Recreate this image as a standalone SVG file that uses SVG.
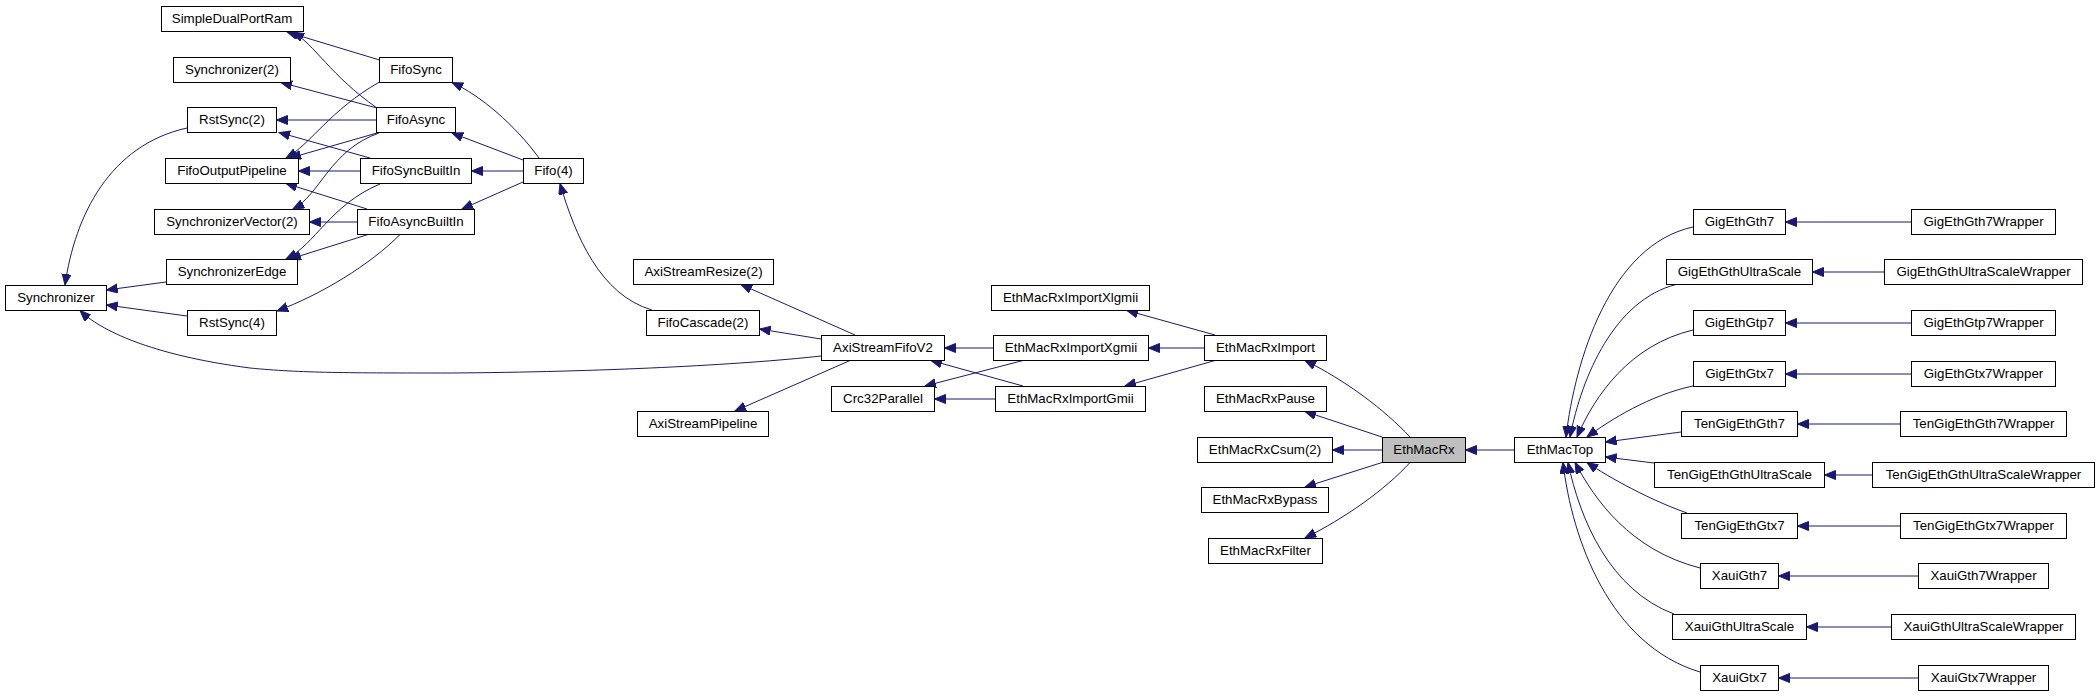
<svg xmlns="http://www.w3.org/2000/svg" width="2099" height="696" viewBox="0 0 2099 696">
<style>
.n rect{fill:#fff;stroke:#000;stroke-width:1}
.n text{font-family:"Liberation Sans",Arial,sans-serif;font-size:13.3px;text-anchor:middle;fill:#000}
#n_EthMacRx rect{fill:#bfbfbf}
.e path{fill:none;stroke:#191970;stroke-width:1;marker-start:url(#ah)}
</style>
<defs>
<marker id="ah" markerWidth="12" markerHeight="10" refX="11" refY="4.5" orient="auto-start-reverse" markerUnits="userSpaceOnUse"><path d="M0,0 L11,4.5 L0,9 z" fill="#191970" stroke="#191970" stroke-width="1"/></marker>
</defs>
<rect width="2099" height="696" fill="#fff"/>
<g id="connectors" class="e">
<path d="M287,32 L379.5,60"/>
<path d="M293,32 C315,45 330,75 377,108"/>
<path d="M281,82.5 L377,108"/>
<path d="M276.5,120 L376,120"/>
<path d="M279,132.5 L370,158"/>
<path d="M286,158 C310,145 330,110 379.5,82"/>
<path d="M290,158 L377,133"/>
<path d="M298.5,171 L360,171"/>
<path d="M286,183.5 L367,209"/>
<path d="M293,209 C320,195 330,150 379,133"/>
<path d="M309.5,222 L357,222"/>
<path d="M286,259 C315,245 330,205 380,184"/>
<path d="M290,259 L368,234.5"/>
<path d="M277,311 C320,295 370,265 400,234.5"/>
<path d="M65,285 C75,215 110,145 187,128"/>
<path d="M106.5,290 L166,282"/>
<path d="M106.5,305 L187,316"/>
<path d="M80,310.5 C100,330 150,355 250,368 C300,373 350,373 450,373 C600,372 740,365 821,356"/>
<path d="M452,82.5 C480,95 515,125 539,158"/>
<path d="M452,133 L523,160"/>
<path d="M471.5,171 L523,171"/>
<path d="M462,209 L523,182"/>
<path d="M560,183.5 C575,235 600,295 652,310"/>
<path d="M741,284.5 L855,335"/>
<path d="M759.5,329 L821,339"/>
<path d="M735,411 L850,360.5"/>
<path d="M944.5,348 L993,348"/>
<path d="M931,360.5 L1023,386"/>
<path d="M925,386 L1023,360.5"/>
<path d="M934.5,399 L995,399"/>
<path d="M1127,310.5 L1215,335"/>
<path d="M1148.5,348 L1204,348"/>
<path d="M1125,386 L1215,360.5"/>
<path d="M1305,360.5 C1345,380 1385,410 1410,437"/>
<path d="M1305,411.5 L1382,437"/>
<path d="M1332.5,450 L1382,450"/>
<path d="M1305,487 L1382,462.5"/>
<path d="M1305,538 C1345,518 1385,490 1410,462.5"/>
<path d="M1465.5,450 L1514,450"/>
<path d="M1566,437 C1575,360 1610,245 1693,227"/>
<path d="M1570,437 C1582,375 1615,300 1676,284.5"/>
<path d="M1577,437 C1595,395 1630,345 1693,330"/>
<path d="M1587,437 C1610,420 1650,395 1693,386"/>
<path d="M1605.5,442 L1681,432"/>
<path d="M1605.5,457 L1654,463"/>
<path d="M1587,462.5 C1610,478 1650,500 1687,513"/>
<path d="M1575,462.5 C1595,500 1630,550 1700,568"/>
<path d="M1568,462.5 C1580,520 1610,590 1674,614"/>
<path d="M1563,462.5 C1572,540 1610,645 1700,672"/>
<path d="M1785.5,222 L1911,222"/>
<path d="M1812.5,272 L1884,272"/>
<path d="M1785.5,323 L1911,323"/>
<path d="M1785.5,374 L1911,374"/>
<path d="M1797.5,424 L1900,424"/>
<path d="M1824.5,475 L1872,475"/>
<path d="M1797.5,526 L1900,526"/>
<path d="M1778.5,576 L1918,576"/>
<path d="M1806.5,627 L1891,627"/>
<path d="M1778.5,678 L1918,678"/>
</g>
<g id="n_SimpleDualPortRam" class="n"><rect x="161.5" y="6.5" width="142" height="25"/><text x="232" y="23">SimpleDualPortRam</text></g>
<g id="n_Synchronizer2" class="n"><rect x="173.5" y="57.5" width="117" height="25"/><text x="232" y="74">Synchronizer(2)</text></g>
<g id="n_RstSync2" class="n"><rect x="187.5" y="107.5" width="89" height="25"/><text x="232" y="124">RstSync(2)</text></g>
<g id="n_FifoOutputPipeline" class="n"><rect x="165.5" y="158.5" width="133" height="25"/><text x="232" y="175">FifoOutputPipeline</text></g>
<g id="n_SynchronizerVector2" class="n"><rect x="154.5" y="209.5" width="155" height="25"/><text x="232" y="226">SynchronizerVector(2)</text></g>
<g id="n_SynchronizerEdge" class="n"><rect x="166.5" y="259.5" width="131" height="25"/><text x="232" y="276">SynchronizerEdge</text></g>
<g id="n_Synchronizer" class="n"><rect x="5.5" y="285.5" width="101" height="25"/><text x="56" y="302">Synchronizer</text></g>
<g id="n_RstSync4" class="n"><rect x="187.5" y="310.5" width="89" height="25"/><text x="232" y="327">RstSync(4)</text></g>
<g id="n_FifoSync" class="n"><rect x="379.5" y="57.5" width="73" height="25"/><text x="416" y="74">FifoSync</text></g>
<g id="n_FifoAsync" class="n"><rect x="376.5" y="107.5" width="79" height="25"/><text x="416" y="124">FifoAsync</text></g>
<g id="n_FifoSyncBuiltIn" class="n"><rect x="360.5" y="158.5" width="111" height="25"/><text x="416" y="175">FifoSyncBuiltIn</text></g>
<g id="n_FifoAsyncBuiltIn" class="n"><rect x="357.5" y="209.5" width="117" height="25"/><text x="416" y="226">FifoAsyncBuiltIn</text></g>
<g id="n_Fifo4" class="n"><rect x="523.5" y="158.5" width="60" height="25"/><text x="553.5" y="175">Fifo(4)</text></g>
<g id="n_AxiStreamResize2" class="n"><rect x="633.5" y="259.5" width="140" height="25"/><text x="703.5" y="276">AxiStreamResize(2)</text></g>
<g id="n_FifoCascade2" class="n"><rect x="646.5" y="310.5" width="113" height="25"/><text x="703" y="327">FifoCascade(2)</text></g>
<g id="n_AxiStreamPipeline" class="n"><rect x="637.5" y="411.5" width="131" height="25"/><text x="703" y="428">AxiStreamPipeline</text></g>
<g id="n_AxiStreamFifoV2" class="n"><rect x="821.5" y="335.5" width="123" height="25"/><text x="883" y="352">AxiStreamFifoV2</text></g>
<g id="n_Crc32Parallel" class="n"><rect x="831.5" y="386.5" width="103" height="25"/><text x="883" y="403">Crc32Parallel</text></g>
<g id="n_EthMacRxImportXlgmii" class="n"><rect x="991.5" y="285.5" width="158" height="25"/><text x="1070.5" y="302">EthMacRxImportXlgmii</text></g>
<g id="n_EthMacRxImportXgmii" class="n"><rect x="993.5" y="335.5" width="155" height="25"/><text x="1071" y="352">EthMacRxImportXgmii</text></g>
<g id="n_EthMacRxImportGmii" class="n"><rect x="995.5" y="386.5" width="150" height="25"/><text x="1070.5" y="403">EthMacRxImportGmii</text></g>
<g id="n_EthMacRxImport" class="n"><rect x="1204.5" y="335.5" width="122" height="25"/><text x="1265.5" y="352">EthMacRxImport</text></g>
<g id="n_EthMacRxPause" class="n"><rect x="1204.5" y="386.5" width="122" height="25"/><text x="1265.5" y="403">EthMacRxPause</text></g>
<g id="n_EthMacRxCsum2" class="n"><rect x="1197.5" y="437.5" width="135" height="25"/><text x="1265" y="454">EthMacRxCsum(2)</text></g>
<g id="n_EthMacRxBypass" class="n"><rect x="1201.5" y="487.5" width="127" height="25"/><text x="1265" y="504">EthMacRxBypass</text></g>
<g id="n_EthMacRxFilter" class="n"><rect x="1208.5" y="538.5" width="114" height="25"/><text x="1265.5" y="555">EthMacRxFilter</text></g>
<g id="n_EthMacRx" class="n"><rect x="1382.5" y="437.5" width="83" height="25"/><text x="1424" y="454">EthMacRx</text></g>
<g id="n_EthMacTop" class="n"><rect x="1514.5" y="437.5" width="91" height="25"/><text x="1560" y="454">EthMacTop</text></g>
<g id="n_GigEthGth7" class="n"><rect x="1693.5" y="209.5" width="92" height="25"/><text x="1739.5" y="226">GigEthGth7</text></g>
<g id="n_GigEthGthUltraScale" class="n"><rect x="1666.5" y="259.5" width="146" height="25"/><text x="1739.5" y="276">GigEthGthUltraScale</text></g>
<g id="n_GigEthGtp7" class="n"><rect x="1693.5" y="310.5" width="92" height="25"/><text x="1739.5" y="327">GigEthGtp7</text></g>
<g id="n_GigEthGtx7" class="n"><rect x="1693.5" y="361.5" width="92" height="25"/><text x="1739.5" y="378">GigEthGtx7</text></g>
<g id="n_TenGigEthGth7" class="n"><rect x="1681.5" y="411.5" width="116" height="25"/><text x="1739.5" y="428">TenGigEthGth7</text></g>
<g id="n_TenGigEthGthUltraScale" class="n"><rect x="1654.5" y="462.5" width="170" height="25"/><text x="1739.5" y="479">TenGigEthGthUltraScale</text></g>
<g id="n_TenGigEthGtx7" class="n"><rect x="1681.5" y="513.5" width="116" height="25"/><text x="1739.5" y="530">TenGigEthGtx7</text></g>
<g id="n_XauiGth7" class="n"><rect x="1700.5" y="563.5" width="78" height="25"/><text x="1739.5" y="580">XauiGth7</text></g>
<g id="n_XauiGthUltraScale" class="n"><rect x="1672.5" y="614.5" width="134" height="25"/><text x="1739.5" y="631">XauiGthUltraScale</text></g>
<g id="n_XauiGtx7" class="n"><rect x="1700.5" y="665.5" width="78" height="25"/><text x="1739.5" y="682">XauiGtx7</text></g>
<g id="n_GigEthGth7Wrapper" class="n"><rect x="1911.5" y="209.5" width="144" height="25"/><text x="1983.5" y="226">GigEthGth7Wrapper</text></g>
<g id="n_GigEthGthUltraScaleWrapper" class="n"><rect x="1884.5" y="259.5" width="198" height="25"/><text x="1983.5" y="276">GigEthGthUltraScaleWrapper</text></g>
<g id="n_GigEthGtp7Wrapper" class="n"><rect x="1911.5" y="310.5" width="144" height="25"/><text x="1983.5" y="327">GigEthGtp7Wrapper</text></g>
<g id="n_GigEthGtx7Wrapper" class="n"><rect x="1911.5" y="361.5" width="144" height="25"/><text x="1983.5" y="378">GigEthGtx7Wrapper</text></g>
<g id="n_TenGigEthGth7Wrapper" class="n"><rect x="1900.5" y="411.5" width="166" height="25"/><text x="1983.5" y="428">TenGigEthGth7Wrapper</text></g>
<g id="n_TenGigEthGthUltraScaleWrapper" class="n"><rect x="1872.5" y="462.5" width="222" height="25"/><text x="1983.5" y="479">TenGigEthGthUltraScaleWrapper</text></g>
<g id="n_TenGigEthGtx7Wrapper" class="n"><rect x="1900.5" y="513.5" width="166" height="25"/><text x="1983.5" y="530">TenGigEthGtx7Wrapper</text></g>
<g id="n_XauiGth7Wrapper" class="n"><rect x="1918.5" y="563.5" width="130" height="25"/><text x="1983.5" y="580">XauiGth7Wrapper</text></g>
<g id="n_XauiGthUltraScaleWrapper" class="n"><rect x="1891.5" y="614.5" width="184" height="25"/><text x="1983.5" y="631">XauiGthUltraScaleWrapper</text></g>
<g id="n_XauiGtx7Wrapper" class="n"><rect x="1918.5" y="665.5" width="130" height="25"/><text x="1983.5" y="682">XauiGtx7Wrapper</text></g>
</svg>
